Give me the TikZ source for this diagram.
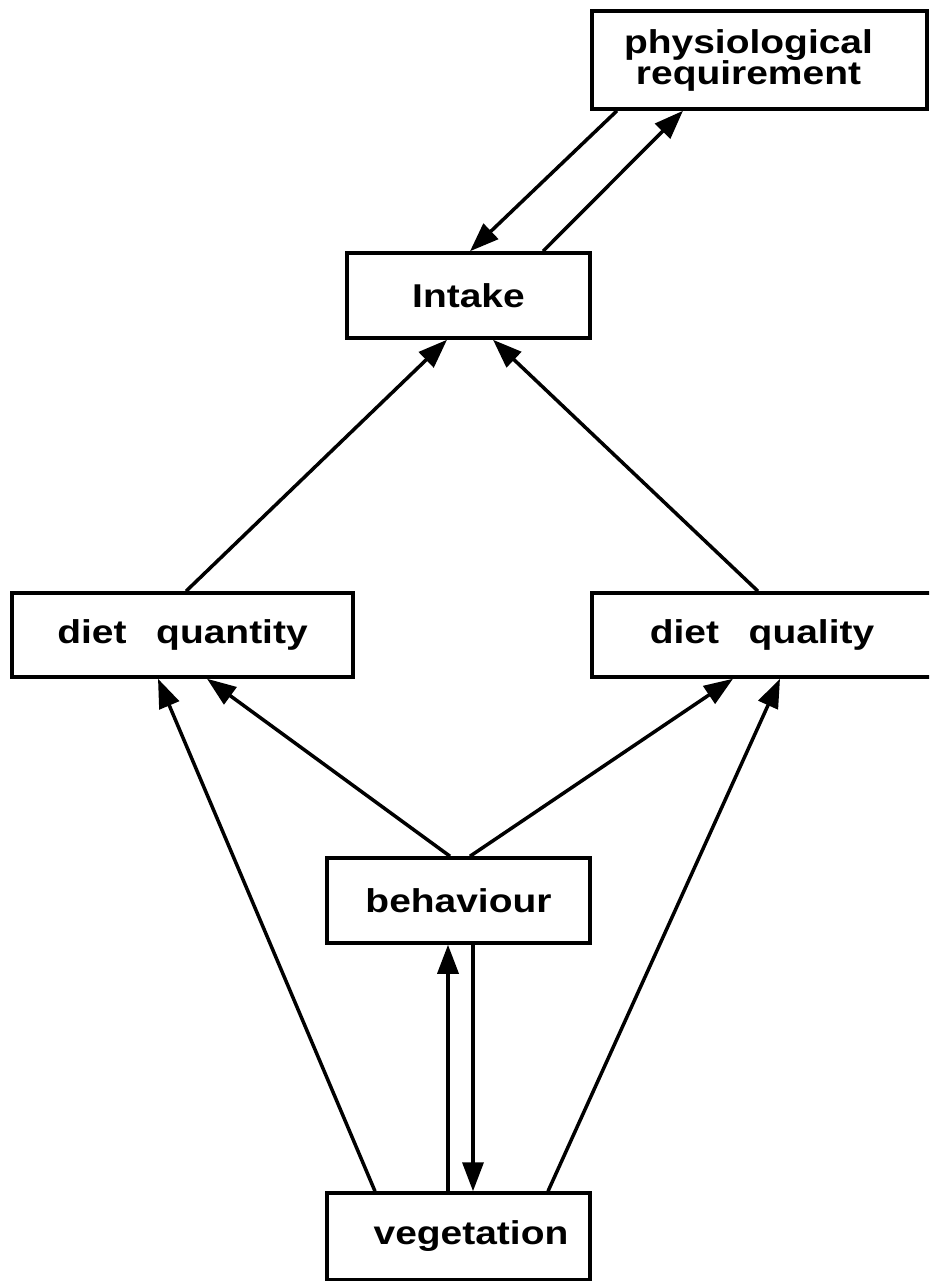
\documentclass[tikz,border=0pt]{standalone}
\usepackage{fontspec}
\setmainfont{Liberation Sans}[FakeStretch=1.18]
\usetikzlibrary{arrows.meta}
\begin{document}
\begin{tikzpicture}[x=1pt,y=-1pt,
  box/.style={draw, line width=3.5pt, inner sep=0pt, font=\fontsize{33}{33}\selectfont\bfseries},
  conn/.style={line width=3.5pt, -{Triangle[length=29pt,width=21pt]}}]
\useasboundingbox (0,0) rectangle (929,1281);
\clip (0,0) rectangle (929,1281);
\node[box, minimum width=335pt, minimum height=98pt, align=center] (phys) at (759.5,60)
  {\hspace*{-22pt}physiological\\[-2pt]\hspace*{-22pt}requirement};
\node[box, minimum width=243pt, minimum height=85pt] (intake) at (468.5,295.5) {Intake};
\node[box, minimum width=341pt, minimum height=84pt] (dqn) at (182.5,635) {diet\hspace{0.9em}quantity};
\node[box, minimum width=340pt, minimum height=84pt] (dql) at (762,635) {diet\hspace{0.9em}quality};
\node[box, minimum width=263pt, minimum height=85pt] (beh) at (458.5,900.5) {behaviour};
\node[box, minimum width=263pt, minimum height=87pt] (veg) at (458.5,1236.5) {\hspace*{25pt}vegetation};
% connectors
\draw[conn] ([xshift=-142.5pt]phys.south) -- ([xshift=1.5pt]intake.north);
\draw[conn] ([xshift=74.5pt]intake.north) -- ([xshift=-76.5pt]phys.south);
\draw[conn] ([xshift=3.5pt]dqn.north) -- ([xshift=-21.5pt]intake.south);
\draw[conn] ([xshift=-4pt]dql.north) -- ([xshift=24.5pt]intake.south);
\draw[conn] ([xshift=-8.5pt]beh.north) -- ([xshift=24.5pt]dqn.south);
\draw[conn] ([xshift=11.5pt]beh.north) -- ([xshift=-29pt]dql.south);
\draw[conn] ([xshift=-83.5pt]veg.north) -- ([xshift=-24.5pt]dqn.south);
\draw[conn] ([xshift=89.5pt]veg.north) -- ([xshift=18pt]dql.south);
\draw[conn] ([xshift=-10.5pt]veg.north) -- ([xshift=-10.5pt]beh.south);
\draw[conn] ([xshift=14.5pt]beh.south) -- ([xshift=14.5pt]veg.north);
\end{tikzpicture}
\end{document}
